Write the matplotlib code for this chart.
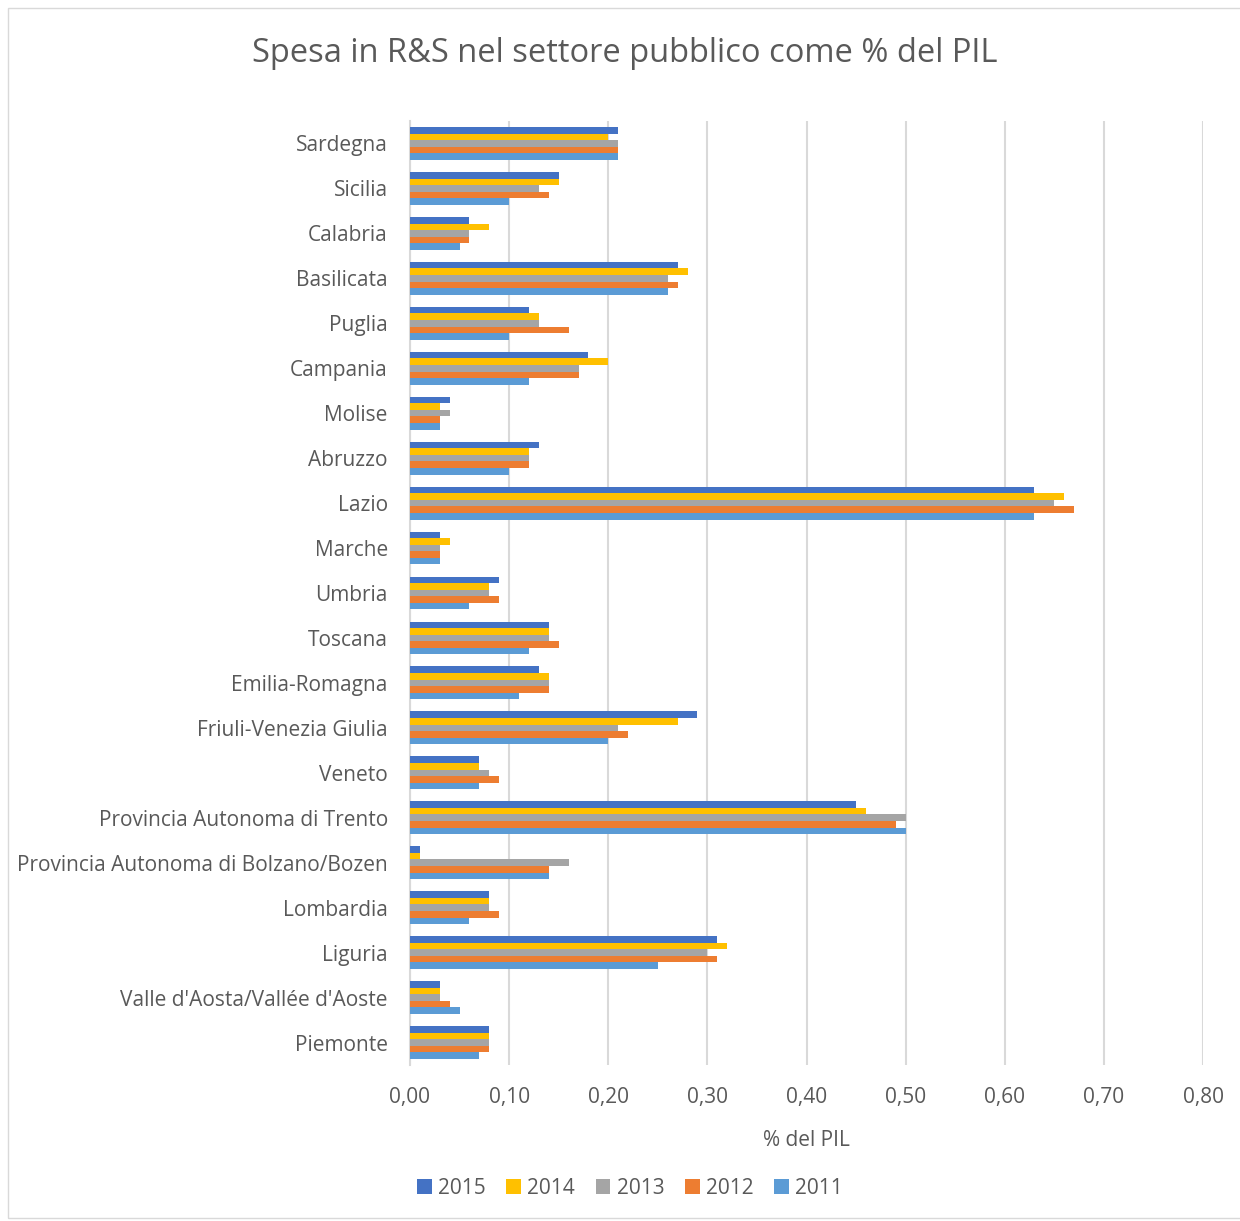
import matplotlib.pyplot as plt
import numpy as np
from matplotlib.patches import Rectangle

plt.rcParams['font.family'] = ['Open Sans', 'DejaVu Sans']

# Regions, bottom to top as drawn
regions = ['Piemonte', "Valle d'Aosta/Vallée d'Aoste", 'Liguria', 'Lombardia',
           'Provincia Autonoma di Bolzano/Bozen', 'Provincia Autonoma di Trento',
           'Veneto', 'Friuli-Venezia Giulia', 'Emilia-Romagna', 'Toscana',
           'Umbria', 'Marche', 'Lazio', 'Abruzzo', 'Molise', 'Campania',
           'Puglia', 'Basilicata', 'Calabria', 'Sicilia', 'Sardegna']

years = ['2015', '2014', '2013', '2012', '2011']
v2015 = [0.08, 0.03, 0.31, 0.08, 0.01, 0.45, 0.07, 0.29, 0.13, 0.14, 0.09,
         0.03, 0.63, 0.13, 0.04, 0.18, 0.12, 0.27, 0.06, 0.15, 0.21]
v2014 = [0.08, 0.03, 0.32, 0.08, 0.01, 0.46, 0.07, 0.27, 0.14, 0.14, 0.08,
         0.04, 0.66, 0.12, 0.03, 0.20, 0.13, 0.28, 0.08, 0.15, 0.20]
v2013 = [0.08, 0.03, 0.30, 0.08, 0.16, 0.50, 0.08, 0.21, 0.14, 0.14, 0.08,
         0.03, 0.65, 0.12, 0.04, 0.17, 0.13, 0.26, 0.06, 0.13, 0.21]
v2012 = [0.08, 0.04, 0.31, 0.09, 0.14, 0.49, 0.09, 0.22, 0.14, 0.15, 0.09,
         0.03, 0.67, 0.12, 0.03, 0.17, 0.16, 0.27, 0.06, 0.14, 0.21]
v2011 = [0.07, 0.05, 0.25, 0.06, 0.14, 0.50, 0.07, 0.20, 0.11, 0.12, 0.06,
         0.03, 0.63, 0.10, 0.03, 0.12, 0.10, 0.26, 0.05, 0.10, 0.21]
series = [v2015, v2014, v2013, v2012, v2011]
colors = ['#4472C4', '#FFC000', '#A5A5A5', '#ED7D31', '#5B9BD5']

fig = plt.figure(figsize=(12.4, 12.21), dpi=100)
ax = fig.add_axes([410 / 1240, 1 - 1065 / 1221, (1203 - 410) / 1240, (1065 - 121) / 1221])

y = np.arange(len(regions))
h = 0.146
for i, (vals, c, yr) in enumerate(zip(series, colors, years)):
    ax.barh(y + (2 - i) * h, vals, height=h, color=c, label=yr, zorder=3)

ax.set_xlim(0, 0.8)
ax.set_ylim(-0.5, len(regions) - 0.5)
ax.set_xticks(np.arange(0, 0.81, 0.1))
ax.set_xticklabels([f'{t:.2f}'.replace('.', ',') for t in np.arange(0, 0.81, 0.1)])
ax.set_yticks(y)
ax.set_yticklabels(regions)
ax.tick_params(axis='both', length=0, labelsize=15, colors='#595959')
ax.tick_params(axis='x', pad=16)
ax.tick_params(axis='y', pad=16)
ax.grid(axis='x', color='#D9D9D9', linewidth=1.5, zorder=0)
for s in ['top', 'right', 'bottom']:
    ax.spines[s].set_visible(False)
ax.spines['left'].set_color('#D9D9D9')
ax.spines['left'].set_linewidth(1.5)
ax.set_xlabel('% del PIL', fontsize=15, color='#595959', labelpad=16)

fig.text(625 / 1240, 1 - 54 / 1221, 'Spesa in R&S nel settore pubblico come % del PIL',
         ha='center', va='center', fontsize=23.5, color='#595959')

fig.legend(loc='center', bbox_to_anchor=(630 / 1240, 1 - 1188 / 1221), ncol=5,
           frameon=False, fontsize=15, labelcolor='#595959', handlelength=0.7,
           handleheight=0.7, handletextpad=0.3, columnspacing=1.0)

fig.patches.append(Rectangle((8 / 1240, 3 / 1221), 1.0, 1 - 11 / 1221, transform=fig.transFigure,
                             fill=False, edgecolor='#D9D9D9', linewidth=1))

fig.savefig('out.png', dpi=100)
